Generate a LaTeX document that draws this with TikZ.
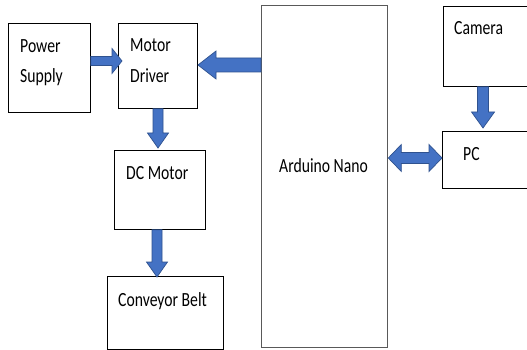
\documentclass[tikz,border=0pt]{standalone}
\usepackage{fontspec}
\setmainfont{Carlito}
\usetikzlibrary{calc}
\definecolor{afill}{HTML}{4472C4}
\definecolor{aline}{HTML}{2F528F}
\newcommand\tx[1]{\scalebox{1}[1.28]{#1}}
% block arrow: #1 start, #2 end, #3 shaft half width, #4 head half width, #5 head length
\newcommand\blockarrow[5]{%
  \coordinate (hb) at ($(#2)!#5!(#1)$);
  \filldraw[barrow] ($(#1)!#3!90:(#2)$) -- ($(hb)!#3!-90:(#1)$) -- ($(hb)!#4!-90:(#1)$)
    -- (#2) -- ($(hb)!#4!90:(#1)$) -- ($(hb)!#3!90:(#1)$) -- ($(#1)!#3!-90:(#2)$) -- cycle;}
% double block arrow
\newcommand\dblockarrow[5]{%
  \coordinate (ha) at ($(#1)!#5!(#2)$);
  \coordinate (hb) at ($(#2)!#5!(#1)$);
  \filldraw[barrow] (#1) -- ($(ha)!#4!90:(#2)$) -- ($(ha)!#3!90:(#2)$) -- ($(hb)!#3!-90:(#1)$)
    -- ($(hb)!#4!-90:(#1)$) -- (#2) -- ($(hb)!#4!90:(#1)$) -- ($(hb)!#3!90:(#1)$)
    -- ($(ha)!#3!-90:(#2)$) -- ($(ha)!#4!-90:(#2)$) -- cycle;}
\begin{document}
\begin{tikzpicture}[x=1pt,y=-1pt,
  box/.style={draw=black,line width=0.8pt,rectangle,inner sep=0pt,anchor=north west},
  lbl/.style={anchor=base west,inner sep=0pt,font=\fontsize{15.7}{18}\selectfont},
  barrow/.style={fill=afill,draw=aline,line width=0.7pt,line join=miter}]
\useasboundingbox (0,0) rectangle (527,350);
\fill[white] (0,0) rectangle (527,350);
% boxes
\node[box,minimum width=82pt,minimum height=89pt] (ps) at (8,23) {};
\node[box,minimum width=79pt,minimum height=85pt] (md) at (118,23) {};
\node[box,minimum width=91pt,minimum height=79pt] (dc) at (114,150) {};
\node[box,minimum width=116pt,minimum height=73pt] (cb) at (107,276) {};
\node[box,draw=black!65,line width=1.3pt,minimum width=126pt,minimum height=342pt] (ard) at (261,5) {};
\node[box,minimum width=100pt,minimum height=80pt] (cam) at (443,6) {};
\node[box,minimum width=100pt,minimum height=57pt] (pc) at (442,131) {};
% labels
\node[lbl] (t1) at (20,52.5) {\tx{Power}};
\node[lbl] (t2) at (20,83) {\tx{Supply}};
\node[lbl] (t3) at (130,52) {\tx{Motor}};
\node[lbl] (t4) at (130,83) {\tx{Driver}};
\node[lbl] (t5) at (126,179) {\tx{DC Motor}};
\node[lbl] (t6) at (118,306) {\tx{Conveyor Belt}};
\node[lbl] (t7) at (279,172) {\tx{Arduino Nano}};
\node[lbl] (t8) at (454,35) {\tx{Camera}};
\node[lbl] (t9) at (463,160) {\tx{PC}};
% arrow end points
\coordinate (a1) at (ps.east |- 0,61);
\coordinate (b1) at (122,61);
\coordinate (a2) at (ard.west |- 0,65);
\coordinate (b2) at (198,65);
\coordinate (a3) at (md.south -| 158,0);
\coordinate (b3) at (158,148);
\coordinate (a4) at (dc.south -| 157,0);
\coordinate (b4) at (157,277);
\coordinate (a5) at (cam.south -| 483,0);
\coordinate (b5) at (483,128);
\coordinate (a6) at (ard.east |- 0,158);
\coordinate (b6) at (pc.west |- 0,158);
\blockarrow{a1}{b1}{4.5pt}{12.5pt}{10pt}
\blockarrow{a2}{b2}{7pt}{14pt}{18pt}
\blockarrow{a3}{b3}{5pt}{10.5pt}{15pt}
\blockarrow{a4}{b4}{5pt}{10.5pt}{15pt}
\blockarrow{a5}{b5}{5.5pt}{11.5pt}{16pt}
\dblockarrow{a6}{b6}{5.5pt}{13.5pt}{13pt}
\end{tikzpicture}
\end{document}
